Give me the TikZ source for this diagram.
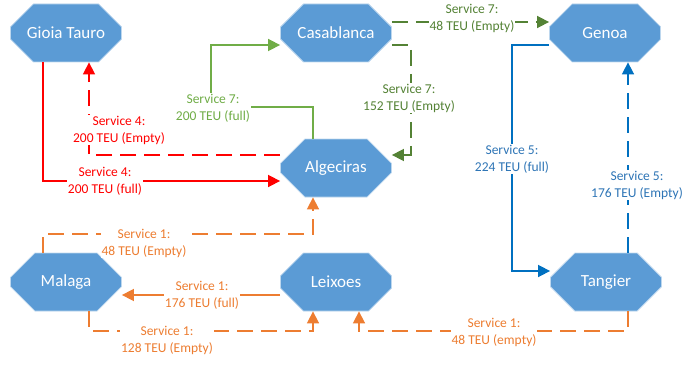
\documentclass[tikz,border=0pt]{standalone}
\usepackage{fontspec}
\setmainfont{Carlito}
\usetikzlibrary{arrows.meta,shapes.misc}

\definecolor{portblue}{HTML}{5B9BD5}
\definecolor{srvred}{HTML}{FF0000}
\definecolor{srvgreen}{HTML}{70AD47}
\definecolor{srvdgreen}{HTML}{548235}
\definecolor{srvblue}{HTML}{0070C0}
\definecolor{srvbluetext}{HTML}{2E75B6}
\definecolor{srvorange}{HTML}{ED7D31}

\tikzset{
    port/.style = { chamfered rectangle, chamfered rectangle xsep = 28pt, chamfered rectangle ysep = 17pt,
        minimum width = 111pt, minimum height = 58pt, inner sep = 0pt,
        fill = portblue, draw = portblue!40, line width = 0.8pt,
        text = white, font = \fontsize{17}{20}\selectfont },
    route/.style = { line width = 1.6pt, -{Triangle[ length = 12pt, width = 12pt ]} },
    emptyrun/.style = { dash pattern = on 16pt off 8pt },
    lbl/.style = { fill = white, align = center, inner sep = 1pt, font = \fontsize{13.5}{17}\selectfont }
}

\begin{document}
\begin{tikzpicture}[ x = 1pt, y = 1pt ]
    \useasboundingbox ( 0, 0 ) rectangle ( 686, 365 );

    % порты
    \node [ port ] (gioia) at ( 66, 332 ) {Gioia Tauro};
    \node [ port ] (casa) at ( 336, 332 ) {Casablanca};
    \node [ port ] (genoa) at ( 605, 332 ) {Genoa};
    \node [ port ] (alg) at ( 336, 197 ) {Algeciras};
    \node [ port ] (malaga) at ( 66, 83 ) {Malaga};
    \node [ port ] (leixoes) at ( 336, 83 ) {Leixoes};
    \node [ port ] (tangier) at ( 606, 83 ) {Tangier};

    % service 4
    \draw [ route, srvred ] (43,0 |- gioia.south) -- ( 43, 184 ) -- (alg.west |- 0,184);
    \draw [ route, emptyrun, srvred ] (alg.west |- 0,210) -- ( 89, 210 ) -- (89,0 |- gioia.south);
    \node [ lbl, text = srvred ] (s4full) at ( 105, 184 ) {Service 4:\\200 TEU (full)};
    \node [ lbl, text = srvred ] (s4empty) at ( 119, 235 ) {Service 4:\\200 TEU (Empty)};

    % service 7
    \draw [ route, srvgreen ] (313,0 |- alg.north) -- ( 313, 258 ) -- ( 211, 258 ) -- ( 211, 320 ) -- (casa.west |- 0,320);
    \draw [ route, emptyrun, srvdgreen ] (casa.east |- 0,343) -- (genoa.west |- 0,343);
    \draw [ route, emptyrun, srvdgreen ] (casa.east |- 0,320) -- ( 411, 320 ) -- ( 411, 210 ) -- (alg.east |- 0,210);
    \node [ lbl, text = srvgreen ] (s7full) at ( 213, 257 ) {Service 7:\\200 TEU (full)};
    \node [ lbl, text = srvdgreen ] (s7genoa) at ( 472, 347 ) {Service 7:\\48 TEU (Empty)};
    \node [ lbl, text = srvdgreen ] (s7alg) at ( 409, 267 ) {Service 7:\\152 TEU (Empty)};

    % service 5
    \draw [ route, srvblue ] (genoa.west |- 0,320) -- ( 512, 320 ) -- ( 512, 94 ) -- (tangier.west |- 0,94);
    \draw [ route, emptyrun, srvblue ] (628,0 |- tangier.north) -- (628,0 |- genoa.south);
    \node [ lbl, text = srvbluetext ] (s5full) at ( 512, 206 ) {Service 5:\\224 TEU (full)};
    \node [ lbl, text = srvbluetext ] (s5empty) at ( 637, 180 ) {Service 5:\\176 TEU (Empty)};

    % service 1
    \draw [ route, emptyrun, srvorange ] (43,0 |- malaga.north) -- ( 43, 131 ) -- ( 313, 131 ) -- (313,0 |- alg.south);
    \draw [ route, srvorange ] (leixoes.west |- 0,70) -- (malaga.east |- 0,70);
    \draw [ route, emptyrun, srvorange ] (89,0 |- malaga.south) -- ( 89, 34 ) -- ( 313, 34 ) -- (313,0 |- leixoes.south);
    \draw [ route, emptyrun, srvorange ] (628,0 |- tangier.south) -- ( 628, 34 ) -- ( 359, 34 ) -- (359,0 |- leixoes.south);
    \node [ lbl, text = srvorange ] (s1alg) at ( 144, 122 ) {Service 1:\\48 TEU (Empty)};
    \node [ lbl, text = srvorange ] (s1full) at ( 202, 70 ) {Service 1:\\176 TEU (full)};
    \node [ lbl, text = srvorange ] (s1leix) at ( 167, 25 ) {Service 1:\\128 TEU (Empty)};
    \node [ lbl, text = srvorange ] (s1tang) at ( 494, 33 ) {Service 1:\\48 TEU (empty)};
\end{tikzpicture}
\end{document}
